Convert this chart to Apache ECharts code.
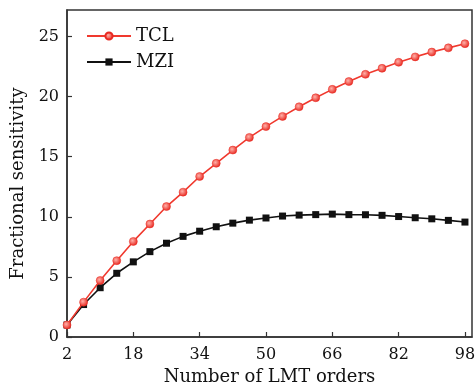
<!DOCTYPE html>
<html><head><meta charset="utf-8">
<script src="https://cdn.jsdelivr.net/npm/echarts@6/dist/echarts.min.js"></script>
<style>html,body{margin:0;padding:0;background:#fff}#c{width:476px;height:386px}</style>
</head><body><div id="c"></div>
<script>
var orders = [2,6,10,14,18,22,26,30,34,38,42,46,50,54,58,62,66,70,74,78,82,86,90,94,98];
var tcl = [1.0,2.9,4.7,6.35,7.95,9.4,10.85,12.05,13.35,14.45,15.55,16.6,17.5,18.35,19.15,19.9,20.6,21.25,21.85,22.35,22.85,23.3,23.7,24.05,24.4];
var mzi = [1.0,2.7,4.1,5.3,6.25,7.1,7.8,8.37,8.8,9.17,9.47,9.72,9.9,10.06,10.14,10.18,10.22,10.18,10.17,10.12,10.02,9.92,9.83,9.7,9.56];
var xTicks = [2,18,34,50,66,82,98];
var seriesNames = ['TCL','MZI'];
var F = 'DejaVu Serif';
function pairs(xs, ys){ return xs.map(function(x,i){return [x, ys[i]];}); }
var chart = echarts.init(document.getElementById('c'), null, {renderer:'canvas'});
chart.setOption({
  animation:false,
  backgroundColor:'#fff',
  grid:{left:67,right:4,top:10,bottom:49,outerBoundsMode:'none',containLabel:false,show:true,borderColor:'#333',borderWidth:1.5,backgroundColor:'transparent'},
  legend:{
    left:81, top:22, orient:'vertical', itemWidth:44, itemHeight:9, itemGap:8,
    textStyle:{fontFamily:F,fontSize:18,color:'#111'},
    data:seriesNames
  },
  xAxis:{
    type:'value', min:2, max:99.7, interval:16,
    name:'Number of LMT orders', nameLocation:'middle', nameGap:29,
    nameTextStyle:{fontFamily:F,fontSize:18,color:'#111'},
    axisLine:{lineStyle:{color:'#333',width:1.5}},
    axisTick:{inside:true,length:5,lineStyle:{color:'#333',width:1.2}},
    axisLabel:{fontFamily:F,fontSize:16,color:'#111',margin:10,showMaxLabel:false,
      formatter:function(v){return xTicks.indexOf(v)>=0?String(v):'';}},
    splitLine:{show:false}
  },
  yAxis:{
    type:'value', min:0, max:27.2, interval:5,
    name:'Fractional sensitivity', nameLocation:'middle', nameGap:39,
    nameTextStyle:{fontFamily:F,fontSize:18,color:'#111',padding:[0,20,0,0]},
    axisLine:{lineStyle:{color:'#333',width:1.5}},
    axisTick:{inside:true,length:5,lineStyle:{color:'#333',width:1.2}},
    axisLabel:{fontFamily:F,fontSize:16,color:'#111',margin:8,showMaxLabel:false},
    splitLine:{show:false}
  },
  series:[
    {name:seriesNames[0], type:'line', data:pairs(orders,tcl), symbol:'circle', symbolSize:8,
     lineStyle:{color:'#f0392e',width:1.6},
     itemStyle:{color:new echarts.graphic.RadialGradient(0.4,0.4,0.6,[{offset:0,color:'#ffb0a8'},{offset:1,color:'#e82a22'}]),borderColor:'#e82a22',borderWidth:0.5}, z:3},
    {name:seriesNames[1], type:'line', data:pairs(orders,mzi), symbol:'rect', symbolSize:7,
     lineStyle:{color:'#111',width:1.6},
     itemStyle:{color:'#111'}, z:2}
  ]
});
</script></body></html>
